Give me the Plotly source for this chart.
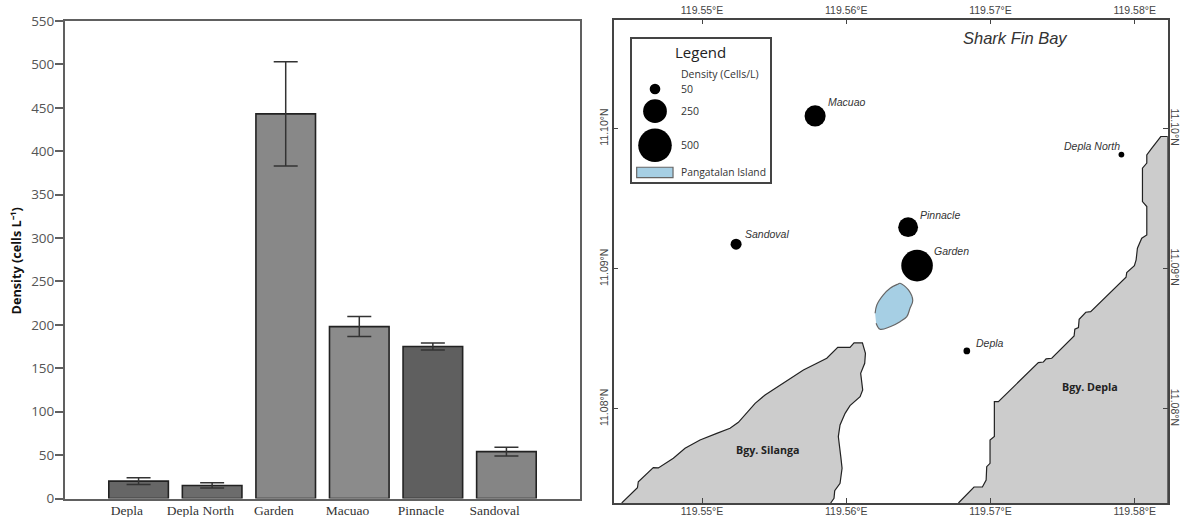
import math
import plotly.graph_objects as go

# ---------- data ----------
sites = ["Depla", "Depla North", "Garden", "Macuao", "Pinnacle", "Sandoval"]
density = [20, 15, 443, 198, 175, 54]
density_err = [4, 3, 60, 11.5, 4, 5]
bar_colors = ["#666666", "#6c6c6c", "#888888", "#8b8b8b", "#5f5f5f", "#858585"]
y_ticks = [0, 50, 100, 150, 200, 250, 300, 350, 400, 450, 500, 550]

site_lon = [119.56836, 119.57908, 119.56491, 119.55784, 119.56429, 119.55236]
site_lat = [11.08414, 11.09815, 11.09023, 11.10091, 11.09297, 11.09176]

lon_ticks = [119.55, 119.56, 119.57, 119.58]
lon_labels = ["119.55°E", "119.56°E", "119.57°E", "119.58°E"]
lat_ticks = [11.08, 11.09, 11.10]
lat_labels = ["11.08°N", "11.09°N", "11.10°N"]

silanga_lon = [119.54443, 119.54552, 119.54558, 119.54662, 119.54697, 119.54801, 119.54882, 119.54986,
               119.55102, 119.55194, 119.55252, 119.55310, 119.55368, 119.55437, 119.55541, 119.55703,
               119.55865, 119.55941, 119.56026, 119.56054, 119.56112, 119.56133, 119.56128, 119.56100,
               119.56114, 119.56096, 119.56026, 119.55992, 119.55957, 119.55945, 119.55962, 119.55971,
               119.55957, 119.55920, 119.55915, 119.55892]
silanga_lat = [11.07329, 11.07438, 11.07481, 11.07581, 11.07579, 11.07648, 11.07719, 11.07779,
               11.07826, 11.07862, 11.07905, 11.07969, 11.08040, 11.08100, 11.08171, 11.08278,
               11.08362, 11.08440, 11.08440, 11.08471, 11.08471, 11.08397, 11.08326, 11.08255,
               11.08136, 11.08088, 11.08024, 11.07969, 11.07886, 11.07803, 11.07660, 11.07577,
               11.07469, 11.07417, 11.07362, 11.07329]

depla_lon = [119.56778, 119.56886, 119.56944, 119.56970, 119.56974, 119.56997, 119.56997, 119.57027,
             119.57027, 119.57055, 119.57332, 119.57367, 119.57386, 119.57425, 119.57580, 119.57585,
             119.57610, 119.57615, 119.57661, 119.57695, 119.57940, 119.57945, 119.57998, 119.58010,
             119.58019, 119.58049, 119.58084, 119.58084, 119.58054, 119.58054, 119.58084, 119.58084,
             119.58119, 119.58181, 119.58229, 119.58229]
depla_lat = [11.07329, 11.07443, 11.07443, 11.07493, 11.07588, 11.07612, 11.07779, 11.07803,
             11.08052, 11.08052, 11.08331, 11.08335, 11.08357, 11.08362, 11.08521, 11.08569,
             11.08581, 11.08640, 11.08690, 11.08695, 11.08940, 11.08973, 11.09023, 11.09064,
             11.09147, 11.09218, 11.09242, 11.09444, 11.09480, 11.09718, 11.09754, 11.09813,
             11.09861, 11.09944, 11.09944, 11.07329]

island_lon = [119.56200, 119.56212, 119.56257, 119.56304, 119.56361, 119.56373, 119.56431,
              119.56461, 119.56442, 119.56420, 119.56373, 119.56304, 119.56234, 119.56207]
island_lat = [11.08683, 11.08742, 11.08814, 11.08862, 11.08892, 11.08897, 11.08849,
              11.08773, 11.08719, 11.08659, 11.08623, 11.08587, 11.08569, 11.08612]

legend_values = [50, 250, 500]

# ---------- layout helpers ----------
W, H = 1180, 517
SIZE_SCALE = 1.5


def dia(v):
    return SIZE_SCALE * math.sqrt(v)


def xdom(a, b):
    return [a / W, b / W]


def ydom(top, bottom):
    return [1 - bottom / H, 1 - top / H]


LON_RANGE = [119.54386, 119.58229]
LAT_RANGE = [11.07329, 11.10779]
MAPX = xdom(613.5, 1167.7)
MAPY = ydom(19.5, 503)

fig = go.Figure()

# bar panel
positions = list(range(len(sites)))
fig.add_trace(go.Bar(
    x=positions, y=density, width=0.81,
    marker=dict(color=bar_colors, line=dict(color="#222222", width=1.6)),
    error_y=dict(type="data", array=density_err, visible=True, color="#333333", thickness=1.5, width=12),
    xaxis="x", yaxis="y", showlegend=False,
))

# map panel
fig.add_trace(go.Scatter(x=silanga_lon, y=silanga_lat, mode="lines", fill="toself", fillcolor="#cccccc",
                         line=dict(color="#222222", width=1.2), xaxis="x2", yaxis="y2", showlegend=False))
fig.add_trace(go.Scatter(x=depla_lon, y=depla_lat, mode="lines", fill="toself", fillcolor="#cccccc",
                         line=dict(color="#222222", width=1.2), xaxis="x2", yaxis="y2", showlegend=False))
fig.add_trace(go.Scatter(x=island_lon, y=island_lat, mode="lines", fill="toself", fillcolor="#a6cfe4",
                         line=dict(color="#666666", width=1.2, shape="spline"), xaxis="x2", yaxis="y2",
                         showlegend=False))
fig.add_trace(go.Scatter(x=site_lon, y=site_lat, mode="markers",
                         marker=dict(color="black", opacity=1, size=[dia(v) for v in density], sizemode="diameter",
                                     line=dict(width=0)),
                         xaxis="x2", yaxis="y2", showlegend=False))
# mirror axes of the map (top + right labels)
fig.add_trace(go.Scatter(x=[None], y=[None], mode="markers", xaxis="x3", yaxis="y3", showlegend=False))

# legend panel
legend_rows = [0.651, 0.496, 0.258]
fig.add_trace(go.Scatter(x=[0.167] * len(legend_values), y=legend_rows, mode="markers",
                         marker=dict(color="black", opacity=1, size=[dia(v) for v in legend_values], sizemode="diameter",
                                     line=dict(width=0)),
                         xaxis="x4", yaxis="y4", showlegend=False))

TICKFONT = dict(family="Liberation Sans", size=10.5, color="#444444")
FRAME = "#444444"
BARFRAME = "#606060"

layout = dict(
    width=W, height=H, margin=dict(l=0, r=0, t=0, b=0, autoexpand=False), autosize=False,
    paper_bgcolor="white", plot_bgcolor="white", showlegend=False, bargap=0.19,
    xaxis=dict(domain=xdom(65, 580), range=[-1, 6], tickmode="array",
               tickvals=[p - 0.16 for p in positions], ticktext=sites, ticks="",
               tickfont=dict(family="Liberation Serif", size=13.5, color="#333333"),
               showline=True, linecolor=BARFRAME, linewidth=2, mirror=True, showgrid=False, zeroline=False,
               anchor="y", ticklabelstandoff=-2, automargin=False),
    yaxis=dict(domain=ydom(21, 498.5), range=[0, 550], tickmode="array", tickvals=y_ticks,
               ticks="outside", ticklen=8, tickwidth=2, tickcolor=BARFRAME,
               tickfont=dict(family="Open Sans", size=13.5, color="#555555"),
               showline=True, linecolor=BARFRAME, linewidth=2, mirror=True, showgrid=False, zeroline=False,
               anchor="x", ticklabelstandoff=-2, automargin=False),
    xaxis2=dict(domain=MAPX, range=LON_RANGE, tickmode="array", tickvals=lon_ticks, ticktext=lon_labels,
                ticks="inside", ticklen=5, tickwidth=1, tickcolor=FRAME, tickfont=TICKFONT, side="bottom",
                showline=True, linecolor=FRAME, linewidth=1.5, showgrid=False, zeroline=False, anchor="y2",
                ticklabelstandoff=-2),
    yaxis2=dict(domain=MAPY, range=LAT_RANGE, tickmode="array", tickvals=lat_ticks, ticktext=lat_labels,
                ticks="inside", ticklen=5, tickwidth=1, tickcolor=FRAME, tickfont=TICKFONT, tickangle=-90, side="left",
                showline=True, linecolor=FRAME, linewidth=1.5, showgrid=False, zeroline=False, anchor="x2"),
    xaxis3=dict(domain=MAPX, range=LON_RANGE, tickmode="array", tickvals=lon_ticks, ticktext=lon_labels,
                ticks="inside", ticklen=5, tickwidth=1, tickcolor=FRAME, tickfont=TICKFONT, side="top",
                showline=True, linecolor=FRAME, linewidth=1.5, showgrid=False, zeroline=False, anchor="y3",
                overlaying="x2"),
    yaxis3=dict(domain=MAPY, range=LAT_RANGE, tickmode="array", tickvals=lat_ticks, ticktext=lat_labels,
                ticks="inside", ticklen=5, tickwidth=1, tickcolor=FRAME, tickfont=TICKFONT, tickangle=90, side="right",
                showline=True, linecolor=FRAME, linewidth=1.5, showgrid=False, zeroline=False, anchor="x3",
                overlaying="y2", ticklabelstandoff=-3),
    xaxis4=dict(domain=xdom(632, 769.7), range=[0, 1], visible=True, showticklabels=False, ticks="",
                showline=True, linecolor=FRAME, linewidth=1.5, mirror=True, showgrid=False, zeroline=False,
                anchor="y4"),
    yaxis4=dict(domain=ydom(39, 182.3), range=[0, 1], visible=True, showticklabels=False, ticks="",
                showline=True, linecolor=FRAME, linewidth=1.5, mirror=True, showgrid=False, zeroline=False,
                anchor="x4"),
)

SANS = "Open Sans"
ann = []
# y-axis title
ann.append(dict(xref="paper", yref="paper", x=15.5 / W, y=1 - 261 / H, xanchor="center", yanchor="middle",
                showarrow=False, textangle=-90,
                text="<b>Density (cells L⁻¹)</b>",
                font=dict(family=SANS, size=12.7, color="#111111")))
# site labels
label_offsets = {"Depla": (7, 8), "Depla North": (-59, 9), "Garden": (15, 15),
                 "Macuao": (11, 14), "Pinnacle": (10, 12), "Sandoval": (7, 10)}
for name, lo, la in zip(sites, site_lon, site_lat):
    dx, dy = label_offsets[name]
    ann.append(dict(xref="x2", yref="y2", x=lo, y=la, xshift=dx, yshift=dy, xanchor="left", showarrow=False,
                    text=f"<i>{name}</i>", font=dict(family="Liberation Sans", size=10.5, color="#333333")))
# map text
ann.append(dict(xref="x2", yref="y2", x=119.57171, y=11.10648, showarrow=False, text="<i>Shark Fin Bay</i>",
                font=dict(family="Liberation Sans", size=16.5, color="#333333")))
ann.append(dict(xref="x2", yref="y2", x=119.55460, y=11.07707, showarrow=False, text="<b>Bgy. Silanga</b>",
                font=dict(family=SANS, size=10.7, color="#222222")))
ann.append(dict(xref="x2", yref="y2", x=119.57689, y=11.08159, showarrow=False, text="<b>Bgy. Depla</b>",
                font=dict(family=SANS, size=10.7, color="#222222")))
# legend text
ann.append(dict(xref="x4", yref="y4", x=0.499, y=0.909, showarrow=False, text="Legend",
                font=dict(family=SANS, size=15, color="#222222")))
ann.append(dict(xref="x4", yref="y4", x=0.339, y=0.756, xanchor="left", showarrow=False, text="Density (Cells/L)",
                font=dict(family=SANS, size=10.5, color="#333333")))
for v, r in zip(legend_values, legend_rows):
    ann.append(dict(xref="x4", yref="y4", x=0.339, y=r, xanchor="left", showarrow=False, text=str(v),
                    font=dict(family=SANS, size=10.5, color="#333333")))
ann.append(dict(xref="x4", yref="y4", x=0.339, y=0.07, xanchor="left", showarrow=False, text="Pangatalan Island",
                font=dict(family=SANS, size=10.3, color="#333333")))

layout["annotations"] = ann
layout["shapes"] = [dict(type="rect", xref="x4", yref="y4", x0=0.034, x1=0.298, y0=0.032, y1=0.105,
                         fillcolor="#a6cfe4", line=dict(color="#666666", width=1.2))]

fig.update_layout(**layout)
fig.write_html("out.html", config={"displayModeBar": False},
               post_script="document.body.style.margin='0';")
